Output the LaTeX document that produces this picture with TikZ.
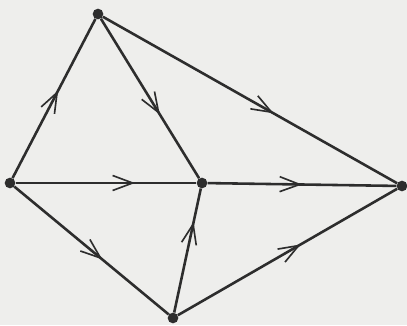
\documentclass[tikz,border=0pt]{standalone}
\usepackage{tikz}
\usetikzlibrary{arrows.meta,decorations.markings}
\definecolor{ink}{RGB}{45,45,45}
\definecolor{paper}{RGB}{238,238,236}
\tikzset{
  vtx/.style={circle,fill=ink,inner sep=0pt,minimum size=.32cm},
  edge/.style={ink,line width=2.2pt,postaction={decorate},
    decoration={markings,mark=at position #1 with {\arrow{Straight Barb[length=.6cm,width=.45cm,line width=1.4pt]}}}}
}
\begin{document}
\begin{tikzpicture}[x=.03cm,y=-.03cm]
    \fill[paper] (0,0) rectangle (407,325);
    \useasboundingbox (0,0) rectangle (407,325);
    \node[vtx] (t) at (98,14) {};
    \node[vtx] (l) at (10,183) {};
    \node[vtx] (c) at (202,183) {};
    \node[vtx] (r) at (402,186) {};
    \node[vtx] (b) at (173,318) {};
    \draw[edge=.55] (l)--(t); \draw[edge=.6] (t)--(c); \draw[edge=.58] (t)--(r);
    \draw[edge=.66] (l)--(c); \draw[edge=.5] (c)--(r);
    \draw[edge=.57] (l)--(b); \draw[edge=.73] (b)--(c); \draw[edge=.56] (b)--(r);
  \end{tikzpicture}
\end{document}
